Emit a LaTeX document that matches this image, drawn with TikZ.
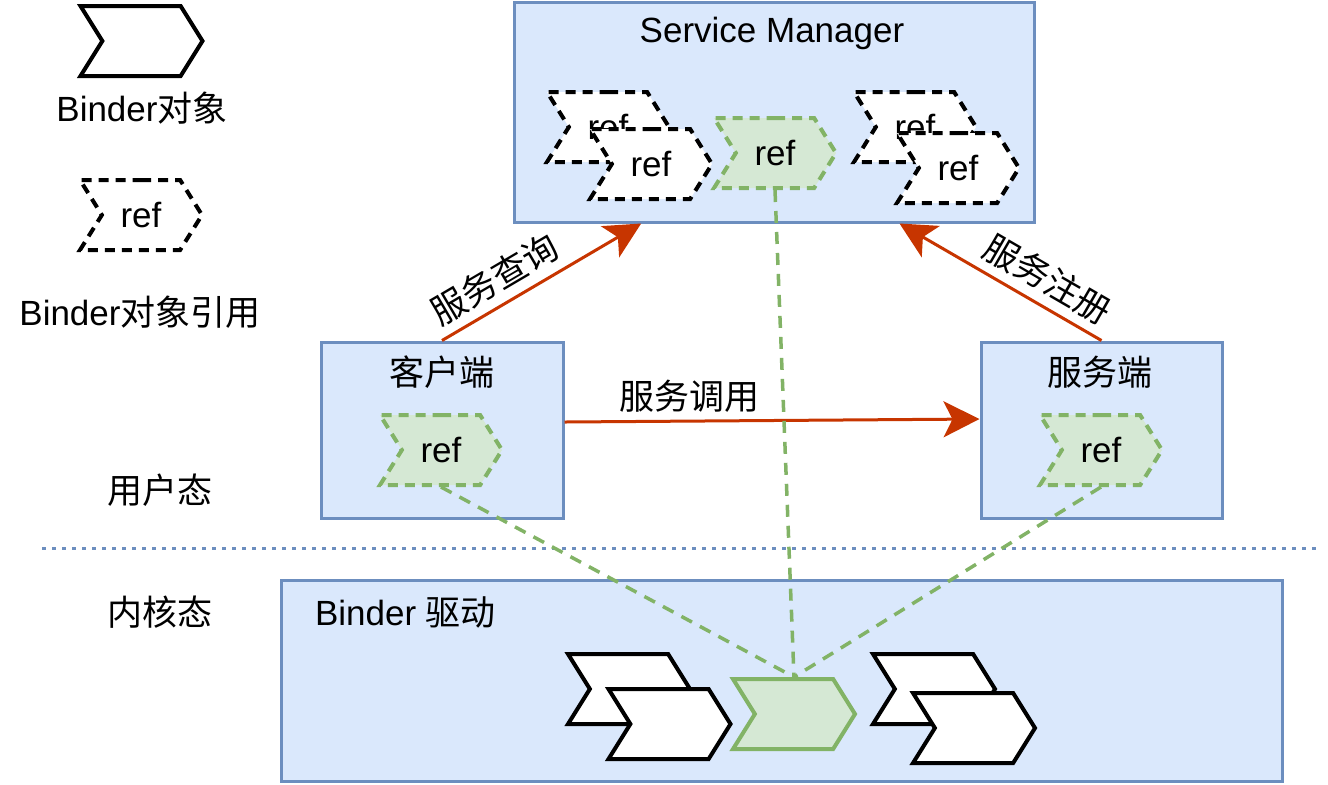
\documentclass[tikz,border=0pt]{standalone}
\usepackage{fontspec}
\setmainfont{Liberation Sans}
\newfontfamily\zhfont{Noto Sans CJK SC}
\usepackage{tikz}
\usetikzlibrary{arrows.meta,positioning,shapes.symbols,calc}
\newcommand{\zh}[1]{{\zhfont #1}}
\definecolor{boxfill}{HTML}{DAE8FC}
\definecolor{boxline}{HTML}{6C8EBF}
\definecolor{reffill}{HTML}{D5E8D4}
\definecolor{refline}{HTML}{82B366}
\definecolor{callred}{HTML}{C73500}

\begin{document}
\begin{tikzpicture}[x=0.5pt,y=-0.5pt,font=\fontsize{17.5pt}{21pt}\selectfont,
  proc/.style={draw=boxline,fill=boxfill,line width=1.5pt,inner sep=0pt},
  chev/.style={signal,signal from=west,signal to=east,signal pointer angle=116,
    minimum width=61pt,minimum height=35pt,inner sep=0pt,line width=2pt},
  bobj/.style={chev,draw,fill=white},
  bref/.style={chev,draw,fill=white,dash pattern=on 5pt off 3.5pt},
  gref/.style={chev,draw=refline,fill=reffill,dash pattern=on 5pt off 3.5pt},
  gobj/.style={chev,draw=refline,fill=reffill},
  call/.style={-{Stealth[length=18pt,width=18pt,inset=4.5pt]},draw=callred,line width=1.5pt},
  link/.style={draw=refline,line width=1.75pt,dash pattern=on 6pt off 4.5pt}]
\useasboundingbox (0,0) rectangle (1328,784);
\node[bobj] (keyobj) at (141.5,41) {};
\node (keyobjtxt) at (142,108) {Binder\zh{对象}};
\node[bref] (keyref) at (141,215) {ref};
\node (keyreftxt) at (140,312) {Binder\zh{对象引用}};
\node (user) at (160,490) {\zh{用户态}};
\node (kernel) at (160,612) {\zh{内核态}};
\node[proc,minimum width=260pt,minimum height=110pt] (sm) at (774,112) {};
\node (smtitle) at (772,33) {Service Manager};
\node[bref] (smref1) at (608,127) {ref};
\node[bref] (smref2) at (651,164) {ref};
\node[gref] (smref) at (775,153) {ref};
\node[bref] (smref3) at (915,127) {ref};
\node[bref] (smref4) at (958,168) {ref};
\node[proc,minimum width=121pt,minimum height=88pt] (client) at (442,430) {};
\node (clienttitle) at (442,372) {\zh{客户端}};
\node[gref] (clientref) at (441,450) {ref};
\node[proc,minimum width=120.5pt,minimum height=88pt] (server) at (1101.5,430) {};
\node (servertitle) at (1100,372) {\zh{服务端}};
\node[gref] (serverref) at (1101,450) {ref};
\node[proc,minimum width=500.5pt,minimum height=100.5pt] (drv) at (781.5,680.5) {};
\node[anchor=west] (drvtitle) at (308,612) {Binder \zh{驱动}};
\node[bobj] (obj1) at (629,689) {};
\node[bobj] (obj2) at (669.5,724) {};
\node[gobj] (obj) at (794,714) {};
\node[bobj] (obj3) at (934,689) {};
\node[bobj] (obj4) at (974,728) {};
\coordinate (sepl) at (42,548);
\coordinate (sepr) at (1318,548);
\draw[draw=boxline,line width=1.5pt,dash pattern=on 2pt off 3pt] (sepl) -- (sepr);
\draw[call] (client.north) -- node[sloped,above=1pt,pos=.33] (query) {\zh{服务查询}} ($(sm.south west)!.246!(sm.south east)$);
\draw[call] (server.north) -- node[sloped,above=1pt,pos=.33] (register) {\zh{服务注册}} ($(sm.south west)!.74!(sm.south east)$);
\draw[call] ([yshift=4pt]client.east) -- node[above,pos=.3] (invoke) {\zh{服务调用}} ([yshift=5.5pt]server.west);
\draw[link] (clientref.south) -- (obj.north);
\draw[link] (smref.south) -- (obj.north);
\draw[link] (serverref.south) -- (obj.north);
\end{tikzpicture}
\end{document}
